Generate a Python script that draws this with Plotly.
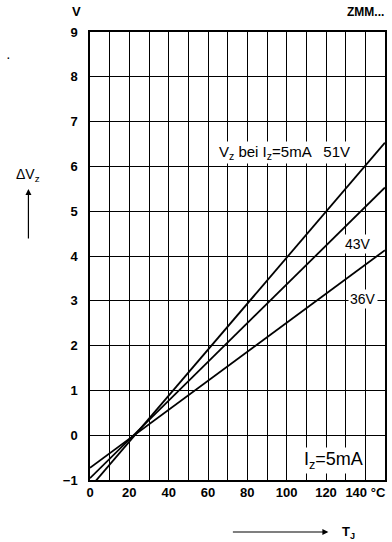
import plotly.graph_objects as go

# Data
temps = [0, 150]                 # junction temperature T_J (°C)
dv_51 = [-1.17, 6.53]            # ΔVz for Vz = 51 V
dv_43 = [-0.96, 5.53]            # ΔVz for Vz = 43 V
dv_36 = [-0.73, 4.13]            # ΔVz for Vz = 36 V
x_ticks = [0, 20, 40, 60, 80, 100, 120, 140]
x_ticktext = ["0", "20", "40", "60", "80", "100", "120", "140 °C"]
y_ticks = [-1, 0, 1, 2, 3, 4, 5, 6, 7, 8, 9]
y_ticktext = ["−1", "0", "1", "2", "3", "4", "5", "6", "7", "8", "9"]

FONT = "Liberation Sans, Arial, sans-serif"

fig = go.Figure()
for ys in (dv_51, dv_43, dv_36):
    fig.add_trace(go.Scatter(x=temps, y=ys, mode="lines",
                             line=dict(color="black", width=1.8),
                             showlegend=False, hoverinfo="skip"))

fig.update_layout(
    width=392, height=542,
    margin=dict(l=90, r=5, t=32, b=62),
    paper_bgcolor="white", plot_bgcolor="white",
    font=dict(family=FONT, size=13, color="black"),
    showlegend=False,
)
fig.update_xaxes(range=[0, 150], tickvals=x_ticks, ticktext=x_ticktext,
                 showgrid=True, gridcolor="black", gridwidth=1.3,
                 showline=True, linecolor="black", linewidth=1.5, mirror=True,
                 ticks="", zeroline=False, fixedrange=True,
                 tickfont=dict(size=13, weight="bold"))
fig.update_xaxes(minor=dict(tickvals=[10, 30, 50, 70, 90, 110, 130], showgrid=True,
                            gridcolor="black", gridwidth=1.3))
fig.update_yaxes(range=[-1, 9], tickvals=y_ticks, ticktext=y_ticktext,
                 showgrid=True, gridcolor="black", gridwidth=1.3,
                 showline=True, linecolor="black", linewidth=1.5, mirror=True,
                 ticks="", ticklabelstandoff=8, zeroline=False, fixedrange=True,
                 tickfont=dict(size=13, weight="bold"))

C = dict(xanchor="center", yanchor="middle", showarrow=False)
ann = []
# inside labels
ann.append(dict(x=99, y=6.31, xref="x", yref="y",
                text="V<sub>z</sub> bei I<sub>z</sub>=5mA   51V",
                bgcolor="white", font=dict(size=15), **C))
ann.append(dict(x=136.4, y=4.27, xref="x", yref="y", text="43V",
                bgcolor="white", font=dict(size=14), **C))
ann.append(dict(x=139, y=3.04, xref="x", yref="y", text="36V",
                bgcolor="white", font=dict(size=14), **C))
ann.append(dict(x=124, y=-0.56, xref="x", yref="y", text="I<sub>z</sub>=5mA",
                bgcolor="white", font=dict(size=18), **C))
# outside labels
ann.append(dict(x=(76 - 90) / 297, y=(480 - 11) / 448, xref="paper", yref="paper", text="V",
                font=dict(size=13, weight="bold"), **C))
ann.append(dict(x=(367 - 90) / 297, y=(480 - 12) / 448, xref="paper", yref="paper",
                text="ZMM...", font=dict(size=12, weight="bold"), **C))
ann.append(dict(x=(28 - 90) / 297, y=(480 - 175) / 448, xref="paper", yref="paper",
                text="ΔV<sub>z</sub>", font=dict(size=14), **C))
ann.append(dict(x=(28 - 90) / 297, y=(480 - 189) / 448, xref="paper", yref="paper", text="",
                showarrow=True, ax=0, ay=51, arrowhead=2, arrowsize=1, arrowwidth=1.2,
                arrowcolor="black"))
ann.append(dict(x=(330 - 90) / 297, y=(480 - 532) / 448, xref="paper", yref="paper", text="",
                showarrow=True, ax=-97, ay=0, arrowhead=2, arrowsize=1, arrowwidth=1.2,
                arrowcolor="black"))
ann.append(dict(x=(350 - 90) / 297, y=(480 - 532) / 448, xref="paper", yref="paper",
                text="T<sub>J</sub>", font=dict(size=13, weight="bold"), **C))
ann.append(dict(x=(8 - 90) / 297, y=(480 - 57) / 448, xref="paper", yref="paper",
                text="·", font=dict(size=14), **C))
fig.update_layout(annotations=ann)

fig.write_html("out.html", config={"displayModeBar": False},
               post_script="document.body.style.margin='0';")
